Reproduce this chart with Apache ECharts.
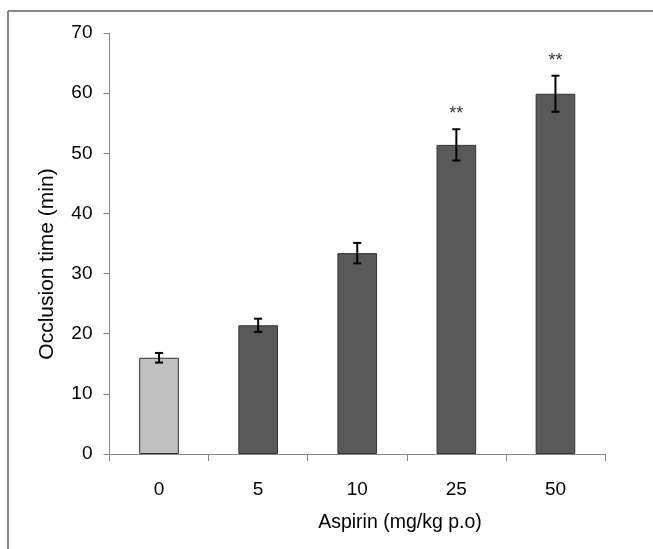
<!DOCTYPE html>
<html>
<head>
<meta charset="utf-8">
<script src="https://cdn.jsdelivr.net/npm/echarts@6/dist/echarts.min.js"></script>
<style>
html,body{margin:0;padding:0;background:#fff;}
#chart{width:653px;height:549px;}
</style>
</head>
<body>
<div id="chart"></div>
<script>
var categories = ['0', '5', '10', '25', '50'];
var values = [16.0, 21.4, 33.4, 51.4, 59.9];
var errors = [0.8, 1.1, 1.7, 2.6, 3.0];
var significance = ['', '', '', '**', '**'];
var yTicks = [0, 10, 20, 30, 40, 50, 60, 70];
var xTitle = 'Aspirin (mg/kg p.o)';
var yTitle = 'Occlusion time (min)';

var FONT = '"Liberation Sans", Arial, sans-serif';
var chart = echarts.init(document.getElementById('chart'));

var barData = values.map(function (v, i) {
  return {
    value: v,
    itemStyle: i === 0
      ? { color: '#c0c0c0', borderColor: '#333', borderWidth: 1 }
      : { color: '#595959', borderColor: '#333', borderWidth: 1 }
  };
});

var errData = values.map(function (v, i) { return [i, v - errors[i], v + errors[i], v]; });

chart.setOption({
  animation: false,
  backgroundColor: '#fff',
  grid: { left: 109.5, right: 48, top: 33, bottom: 95, containLabel: false },
  graphic: [
    { type: 'line', shape: { x1: 8, y1: 11, x2: 653, y2: 11 }, style: { stroke: '#888', lineWidth: 2 } },
    { type: 'line', shape: { x1: 8, y1: 11, x2: 8, y2: 549 }, style: { stroke: '#888', lineWidth: 2 } },
    { type: 'text', x: 400, y: 523, style: { text: xTitle, font: '19.5px ' + FONT, fill: '#000', align: 'center', verticalAlign: 'middle' } },
    { type: 'text', x: 47, y: 264, rotation: Math.PI / 2, style: { text: yTitle, font: '21px ' + FONT, fill: '#000', align: 'center', verticalAlign: 'middle' } }
  ],
  xAxis: {
    type: 'category',
    data: categories,
    axisLine: { lineStyle: { color: '#888', width: 1 } },
    axisTick: { show: true, length: 7, alignWithLabel: false, lineStyle: { color: '#888' } },
    axisLabel: { fontFamily: FONT, fontSize: 19, color: '#000', margin: 26 },
    splitLine: { show: false }
  },
  yAxis: {
    type: 'value',
    min: yTicks[0],
    max: yTicks[yTicks.length - 1],
    interval: 10,
    axisLine: { show: true, lineStyle: { color: '#888', width: 1 } },
    axisTick: { show: true, length: 6, lineStyle: { color: '#888' } },
    axisLabel: { fontFamily: FONT, fontSize: 19, color: '#000', margin: 17 },
    splitLine: { show: false }
  },
  series: [
    {
      type: 'bar',
      data: barData,
      barWidth: '40%',
      z: 2
    },
    {
      type: 'custom',
      z: 5,
      data: errData,
      renderItem: function (params, api) {
        var x = api.value(0);
        var lo = api.coord([x, api.value(1)]);
        var hi = api.coord([x, api.value(2)]);
        var cap = 4;
        var st = { stroke: '#000', lineWidth: 2 };
        var children = [
          { type: 'line', shape: { x1: lo[0], y1: lo[1], x2: hi[0], y2: hi[1] }, style: st },
          { type: 'line', shape: { x1: hi[0] - cap, y1: hi[1], x2: hi[0] + cap, y2: hi[1] }, style: st },
          { type: 'line', shape: { x1: lo[0] - cap, y1: lo[1], x2: lo[0] + cap, y2: lo[1] }, style: st }
        ];
        var s = significance[params.dataIndex];
        if (s) {
          children.push({
            type: 'text', x: hi[0], y: hi[1] - 15,
            style: { text: s, font: '18px ' + FONT, fill: '#333', align: 'center', verticalAlign: 'middle' }
          });
        }
        return { type: 'group', children: children };
      }
    }
  ]
});
</script>
</body>
</html>
